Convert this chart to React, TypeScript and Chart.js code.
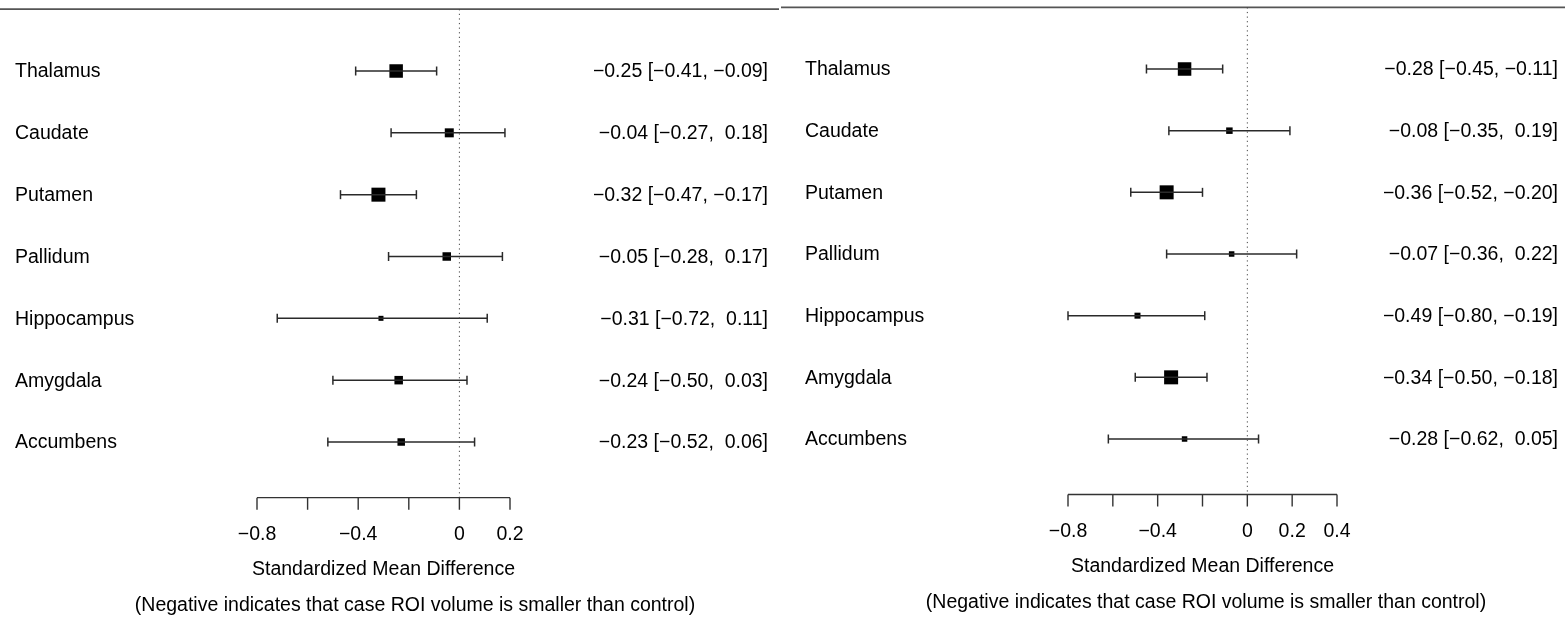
import React, { useEffect, useRef } from "react";
import { Chart, registerables } from "chart.js";

Chart.register(...registerables);

const regions = ["Thalamus", "Caudate", "Putamen", "Pallidum", "Hippocampus", "Amygdala", "Accumbens"];

const leftEstimate = [-0.25, -0.04, -0.32, -0.05, -0.31, -0.24, -0.23];
const leftLower = [-0.41, -0.27, -0.47, -0.28, -0.72, -0.50, -0.52];
const leftUpper = [-0.09, 0.18, -0.17, 0.17, 0.11, 0.03, 0.06];
const leftWeights = [13.5, 9, 14, 8.5, 5, 8.5, 7.5];

const rightEstimate = [-0.28, -0.08, -0.36, -0.07, -0.49, -0.34, -0.28];
const rightLower = [-0.45, -0.35, -0.52, -0.36, -0.80, -0.50, -0.62];
const rightUpper = [-0.11, 0.19, -0.20, 0.22, -0.19, -0.18, 0.05];
const rightWeights = [13.5, 6.5, 14, 5.5, 6, 14, 5.5];

const leftTicks = [-0.8, -0.6, -0.4, -0.2, 0, 0.2];
const leftTickLabels = ["\u22120.8", "", "\u22120.4", "", "0", "0.2"];
const rightTicks = [-0.8, -0.6, -0.4, -0.2, 0, 0.2, 0.4];
const rightTickLabels = ["\u22120.8", "", "\u22120.4", "", "0", "0.2", "0.4"];

const axisTitle = "Standardized Mean Difference";
const axisNote = "(Negative indicates that case ROI volume is smaller than control)";

const FONT = "19.5px 'Liberation Sans', Arial, sans-serif";

function fmt(v: number): string {
  return v < 0 ? "\u2212" + Math.abs(v).toFixed(2) : " " + v.toFixed(2);
}

type PanelProps = {
  left: number;
  width: number;
  est: number[];
  lo: number[];
  hi: number[];
  weights: number[];
  ticks: number[];
  tickLabels: string[];
  pad: { left: number; right: number; top: number; bottom: number };
  labelX: number;
  annotX: number;
  noteX: number;
  lineX0: number;
};

function Panel(p: PanelProps) {
  const ref = useRef<HTMLCanvasElement | null>(null);
  useEffect(() => {
    const canvas = ref.current!;
    const datasets: any[] = [];
    regions.forEach((_, i) => {
      datasets.push({
        data: [
          { x: p.lo[i], y: i + 1 },
          { x: p.hi[i], y: i + 1 },
        ],
        showLine: true,
        borderColor: "#2a2a2a",
        borderWidth: 1.5,
        pointStyle: "line",
        pointRotation: 90,
        pointRadius: 4.5,
        pointBorderColor: "#2a2a2a",
        pointBorderWidth: 1.5,
        clip: false,
      });
    });
    datasets.push({
      data: regions.map((_, i) => ({ x: p.est[i], y: i + 1 })),
      showLine: false,
      pointStyle: "rect",
      pointRadius: p.weights.map((w) => w / 1.4142),
      backgroundColor: "#000",
      pointBackgroundColor: "#000",
      pointBorderWidth: 0,
      clip: false,
    });

    const xmin = p.ticks[0];
    const xmax = p.ticks[p.ticks.length - 1];

    const decor = {
      id: "forestDecor",
      afterDraw(chart: any) {
        const ctx = chart.ctx as CanvasRenderingContext2D;
        const xs = chart.scales.x;
        const ys = chart.scales.y;
        const yTop = ys.getPixelForValue(0);
        const yAxis = ys.getPixelForValue(7.9);
        const x0 = xs.getPixelForValue(0);
        ctx.save();
        // top line
        ctx.strokeStyle = "#555";
        ctx.lineWidth = 1.6;
        ctx.beginPath();
        ctx.moveTo(p.lineX0, yTop);
        ctx.lineTo(p.lineX0 + p.width - 1, yTop);
        ctx.stroke();
        // dotted zero line
        ctx.strokeStyle = "#444";
        ctx.lineWidth = 1;
        ctx.setLineDash([1.2, 3.4]);
        ctx.beginPath();
        ctx.moveTo(x0, yTop);
        ctx.lineTo(x0, yAxis);
        ctx.stroke();
        ctx.setLineDash([]);
        // axis
        ctx.strokeStyle = "#333";
        ctx.lineWidth = 1.4;
        ctx.beginPath();
        ctx.moveTo(xs.getPixelForValue(xmin), yAxis);
        ctx.lineTo(xs.getPixelForValue(xmax), yAxis);
        p.ticks.forEach((t) => {
          const tx = xs.getPixelForValue(t);
          ctx.moveTo(tx, yAxis);
          ctx.lineTo(tx, yAxis + 12);
        });
        ctx.stroke();
        ctx.fillStyle = "#000";
        ctx.font = FONT;
        ctx.textBaseline = "middle";
        ctx.textAlign = "center";
        p.ticks.forEach((t, i) => {
          if (p.tickLabels[i]) ctx.fillText(p.tickLabels[i], xs.getPixelForValue(t), yAxis + 37);
        });
        const axisMid = (xs.getPixelForValue(xmin) + xs.getPixelForValue(xmax)) / 2;
        ctx.fillText(axisTitle, axisMid, yAxis + 72);
        ctx.fillText(axisNote, p.noteX, yAxis + 108);
        // labels and annotations
        regions.forEach((name, i) => {
          const y = ys.getPixelForValue(i + 1) + 1;
          ctx.textAlign = "left";
          ctx.fillText(name, p.labelX, y);
          ctx.textAlign = "right";
          ctx.fillText(`${fmt(p.est[i])} [${fmt(p.lo[i])}, ${fmt(p.hi[i])}]`, p.annotX, y);
        });
        ctx.restore();
      },
    };

    const chart = new Chart(canvas, {
      type: "scatter",
      data: { datasets },
      options: {
        animation: false,
        responsive: false,
        maintainAspectRatio: false,
        layout: { padding: p.pad },
        plugins: { legend: { display: false }, tooltip: { enabled: false } },
        scales: {
          x: { type: "linear", min: xmin, max: xmax, display: false },
          y: { type: "linear", min: 1, max: 7, reverse: true, display: false },
        },
      },
      plugins: [decor],
    });
    return () => chart.destroy();
  }, []);
  return (
    <canvas
      ref={ref}
      width={p.width}
      height={618}
      style={{ position: "absolute", left: p.left, top: 0, width: p.width, height: 618 }}
    />
  );
}

export default function App() {
  return (
    <div style={{ position: "fixed", left: 0, top: 0, width: 1565, height: 618, background: "#fff" }}>
      <Panel
        left={0}
        width={780}
        est={leftEstimate}
        lo={leftLower}
        hi={leftUpper}
        weights={leftWeights}
        ticks={leftTicks}
        tickLabels={leftTickLabels}
        pad={{ left: 257, right: 270, top: 71, bottom: 176 }}
        labelX={15}
        annotX={768}
        noteX={415}
        lineX0={0}
      />
      <Panel
        left={780}
        width={785}
        est={rightEstimate}
        lo={rightLower}
        hi={rightUpper}
        weights={rightWeights}
        ticks={rightTicks}
        tickLabels={rightTickLabels}
        pad={{ left: 288, right: 228, top: 69, bottom: 179 }}
        labelX={25}
        annotX={778}
        noteX={426}
        lineX0={1}
      />
    </div>
  );
}
